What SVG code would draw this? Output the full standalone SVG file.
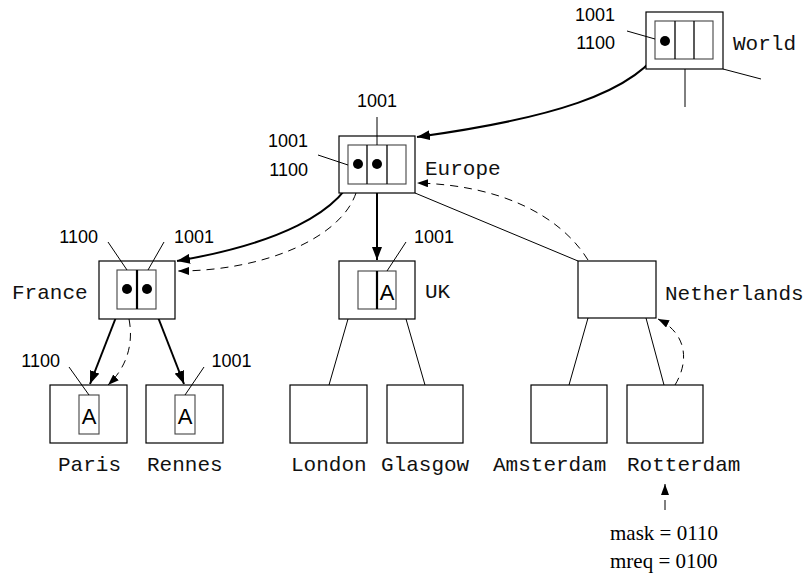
<svg xmlns="http://www.w3.org/2000/svg" width="806" height="576" viewBox="0 0 806 576">
<style>
.box{fill:#fff;stroke:#000;stroke-width:1.2}
.inner{fill:none;stroke:#444;stroke-width:1.1}
.div{stroke:#000;stroke-width:1.3}
.tdiv{stroke:#000;stroke-width:2.2}
.lead{stroke:#000;stroke-width:1;fill:none}
.thick{stroke:#000;stroke-width:2;fill:none}
.dash{stroke:#000;stroke-width:1;fill:none;stroke-dasharray:8,6}
.edge{stroke:#000;stroke-width:1;fill:none}
.num{font-family:"Liberation Sans",Arial,sans-serif;font-size:18px;fill:#000}
.big{font-family:"Liberation Sans",Arial,sans-serif;font-size:22px;fill:#000;text-anchor:middle}
.mono{font-family:"Liberation Mono","Courier New",monospace;font-size:21px;fill:#111}
.serif{font-family:"Liberation Serif","Times New Roman",serif;font-size:21px;fill:#000}
.dot{fill:#000}
</style>
<defs>
<marker id="ah" markerUnits="userSpaceOnUse" markerWidth="13" markerHeight="10" refX="13" refY="5" orient="auto">
<path d="M0,0 L13,5 L0,10 z" fill="#000"/>
</marker>
<marker id="ahs" markerUnits="userSpaceOnUse" markerWidth="11" markerHeight="8" refX="11" refY="4" orient="auto">
<path d="M0,0 L11,4 L0,8 z" fill="#000"/>
</marker>
</defs>

<g id="connectors">
<line class="edge" x1="723" y1="69" x2="761" y2="79"/>
<line class="edge" x1="685" y1="69" x2="685" y2="107"/>
<line class="edge" x1="415" y1="193" x2="578" y2="261"/>
<line class="edge" x1="348" y1="319" x2="329" y2="385"/>
<line class="edge" x1="406" y1="319" x2="425" y2="385"/>
<line class="edge" x1="588" y1="318" x2="569" y2="385"/>
<line class="edge" x1="646" y1="318" x2="664" y2="385"/>
<path class="thick" d="M665,41 C640,95 540,120 417,137" marker-end="url(#ah)"/>
<path class="thick" d="M358,164 C345,215 270,245 177,261" marker-end="url(#ah)"/>
<path class="thick" d="M377,164 L377,260" marker-end="url(#ah)"/>
<path class="thick" d="M127,289 L90,384" marker-end="url(#ah)"/>
<path class="thick" d="M147,289 L184,384" marker-end="url(#ah)"/>
<path class="dash" d="M356,193 C340,240 260,271 178,271" marker-end="url(#ahs)"/>
<path class="dash" d="M588,260 C560,215 500,185 417,183" marker-end="url(#ahs)"/>
<path class="dash" d="M675,385 C690,360 686,333 658,319" marker-end="url(#ahs)"/>
<path class="dash" d="M129,319 C134,345 126,368 108,385" marker-end="url(#ahs)"/>
<path class="dash" style="stroke-dasharray:10,6" d="M665,510 L665,484" marker-end="url(#ahs)"/>
</g>

<g id="world">
<rect class="box" x="646" y="12" width="77" height="57"/>
<rect class="inner" x="655" y="21" width="58" height="38"/>
<line class="div" x1="675" y1="21" x2="675" y2="59"/>
<line class="div" x1="694" y1="21" x2="694" y2="59"/>
<circle class="dot" cx="665" cy="41" r="5"/>
<line class="lead" x1="627" y1="31" x2="655" y2="39"/>
<text class="num" x="615" y="21" text-anchor="end">1001</text>
<text class="num" x="615" y="49" text-anchor="end">1100</text>
<text class="mono" x="733" y="50">World</text>
</g>

<g id="europe">
<rect class="box" x="339" y="136" width="76" height="57"/>
<rect class="inner" x="348" y="145" width="58" height="39"/>
<line class="div" x1="367" y1="145" x2="367" y2="184"/>
<line class="div" x1="387" y1="145" x2="387" y2="184"/>
<circle class="dot" cx="358" cy="164" r="5"/>
<circle class="dot" cx="377" cy="164" r="5"/>
<line class="lead" x1="318" y1="155" x2="348" y2="165"/>
<line class="lead" x1="377" y1="117" x2="377" y2="145"/>
<text class="num" x="308" y="146.5" text-anchor="end">1001</text>
<text class="num" x="308" y="175.5" text-anchor="end">1100</text>
<text class="num" x="377" y="107" text-anchor="middle">1001</text>
<text class="mono" x="425" y="175">Europe</text>
</g>

<g id="france">
<rect class="box" x="99" y="261" width="76" height="58"/>
<rect class="inner" x="117" y="270" width="39" height="39"/>
<line class="tdiv" x1="137" y1="270" x2="137" y2="309"/>
<circle class="dot" cx="127" cy="289" r="5"/>
<circle class="dot" cx="147" cy="289" r="5"/>
<line class="lead" x1="108" y1="242" x2="127" y2="270"/>
<line class="lead" x1="164" y1="242" x2="148" y2="270"/>
<text class="num" x="98" y="242.5" text-anchor="end">1100</text>
<text class="num" x="174" y="242.5">1001</text>
<text class="mono" x="12" y="299">France</text>
</g>

<g id="uk">
<rect class="box" x="339" y="261" width="76" height="58"/>
<rect class="inner" x="358" y="271" width="38" height="38"/>
<line class="tdiv" x1="377" y1="271" x2="377" y2="309"/>
<text class="big" x="387" y="299.5">A</text>
<line class="lead" x1="406" y1="242" x2="387" y2="271"/>
<text class="num" x="414" y="243">1001</text>
<text class="mono" x="425" y="298">UK</text>
</g>

<g id="netherlands">
<rect class="box" x="578" y="261" width="78" height="57"/>
<text class="mono" x="665" y="300">Netherlands</text>
</g>

<g id="paris">
<rect class="box" x="50" y="385" width="77" height="58"/>
<rect class="inner" x="79" y="395" width="20" height="39"/>
<text class="big" x="89" y="424">A</text>
<line class="lead" x1="69" y1="367" x2="89" y2="395"/>
<text class="num" x="60" y="366.5" text-anchor="end">1100</text>
<text class="mono" x="58" y="471">Paris</text>
</g>

<g id="rennes">
<rect class="box" x="146" y="385" width="77" height="58"/>
<rect class="inner" x="175" y="395" width="20" height="39"/>
<text class="big" x="185" y="424">A</text>
<line class="lead" x1="204" y1="367" x2="185" y2="395"/>
<text class="num" x="211.5" y="366.5">1001</text>
<text class="mono" x="147" y="471">Rennes</text>
</g>

<g id="london">
<rect class="box" x="290" y="385" width="77" height="58"/>
<text class="mono" x="291" y="471">London</text>
</g>

<g id="glasgow">
<rect class="box" x="387" y="385" width="76" height="58"/>
<text class="mono" x="381" y="471">Glasgow</text>
</g>

<g id="amsterdam">
<rect class="box" x="531" y="385" width="76" height="58"/>
<text class="mono" x="493" y="471">Amsterdam</text>
</g>

<g id="rotterdam">
<rect class="box" x="627" y="385" width="76" height="58"/>
<text class="mono" x="627" y="471">Rotterdam</text>
</g>

<g id="mask-note">
<text class="serif" x="610" y="540">mask = 0110</text>
<text class="serif" x="610" y="568">mreq = 0100</text>
</g>
</svg>
